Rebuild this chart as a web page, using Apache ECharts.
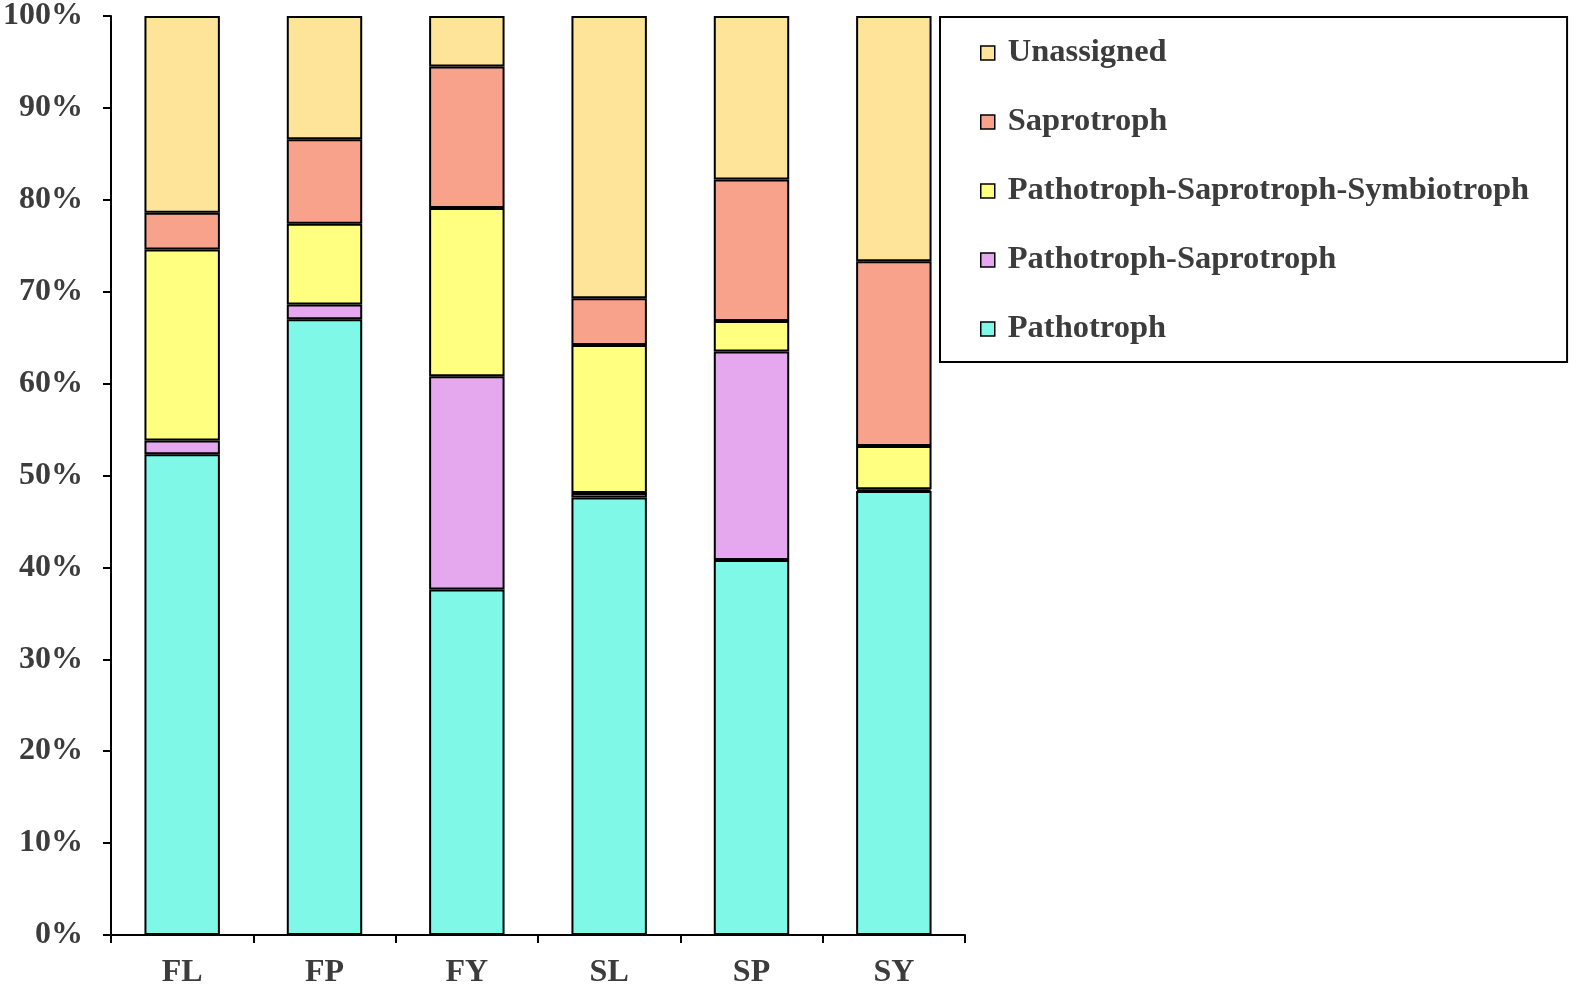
<!DOCTYPE html>
<html>
<head>
<meta charset="utf-8">
<style>html,body{margin:0;padding:0;background:#fff;}#c{width:1581px;height:997px;}</style>
<script src="https://cdn.jsdelivr.net/npm/echarts@6/dist/echarts.min.js"></script>
</head>
<body>
<div id="c"></div>
<script>
const categories = ['FL', 'FP', 'FY', 'SL', 'SP', 'SY'];
const pathotroph = [52.3, 67.0, 37.6, 47.6, 40.8, 48.3];
const pathoSapro = [1.5, 1.6, 23.2, 0.5, 22.7, 0.2];
const pathoSaproSymbio = [20.8, 8.8, 18.3, 16.1, 3.3, 4.7];
const saprotroph = [4.0, 9.2, 15.4, 5.1, 15.4, 20.1];
const unassigned = [21.4, 13.4, 5.5, 30.7, 17.8, 26.7];
const yTicks = [0, 10, 20, 30, 40, 50, 60, 70, 80, 90, 100];

const seriesDefs = [
  { name: 'Pathotroph', data: pathotroph, color: '#7ff8e8' },
  { name: 'Pathotroph-Saprotroph', data: pathoSapro, color: '#e5a8ef' },
  { name: 'Pathotroph-Saprotroph-Symbiotroph', data: pathoSaproSymbio, color: '#ffff80' },
  { name: 'Saprotroph', data: saprotroph, color: '#f8a28c' },
  { name: 'Unassigned', data: unassigned, color: '#fde499' }
];

const txt = '#3c3c3c';
const font = 'Liberation Serif';
const chart = echarts.init(document.getElementById('c'));
chart.setOption({
  backgroundColor: '#ffffff',
  animation: false,
  grid: { left: 111, right: 616, top: 16, bottom: 62, containLabel: false },
  legend: {
    orient: 'vertical',
    left: 940,
    top: 17,
    data: seriesDefs.map(s => s.name).reverse(),
    icon: 'rect',
    itemWidth: 14,
    itemHeight: 14,
    itemGap: 35,
    borderColor: '#000',
    borderWidth: 2,
    borderRadius: 0,
    padding: [19, 38, 16, 40],
    textStyle: { fontFamily: font, fontWeight: 'bold', fontSize: 32.5, color: txt, lineHeight: 34, padding: [0, 0, 0, 8] },
    itemStyle: { borderColor: '#000', borderWidth: 1.5 }
  },
  xAxis: {
    type: 'category',
    data: categories,
    axisLine: { lineStyle: { color: '#000', width: 2 } },
    axisTick: { show: true, length: 8, lineStyle: { color: '#000', width: 2 } },
    axisLabel: { margin: 22, fontFamily: font, fontWeight: 'bold', fontSize: 32, color: txt }
  },
  yAxis: {
    type: 'value',
    min: yTicks[0],
    max: yTicks[yTicks.length - 1],
    interval: 10,
    splitLine: { show: false },
    axisLine: { show: true, lineStyle: { color: '#000', width: 2 } },
    axisTick: { show: true, length: 8, lineStyle: { color: '#000', width: 2 } },
    axisLabel: { margin: 28, formatter: '{value}%', fontFamily: font, fontWeight: 'bold', fontSize: 32, color: txt }
  },
  series: seriesDefs.map(s => ({
    name: s.name,
    type: 'bar',
    stack: 'total',
    barWidth: '53%',
    data: s.data,
    itemStyle: { color: s.color, borderColor: '#000', borderWidth: 2 },
    emphasis: { disabled: true }
  }))
});
</script>
</body>
</html>
